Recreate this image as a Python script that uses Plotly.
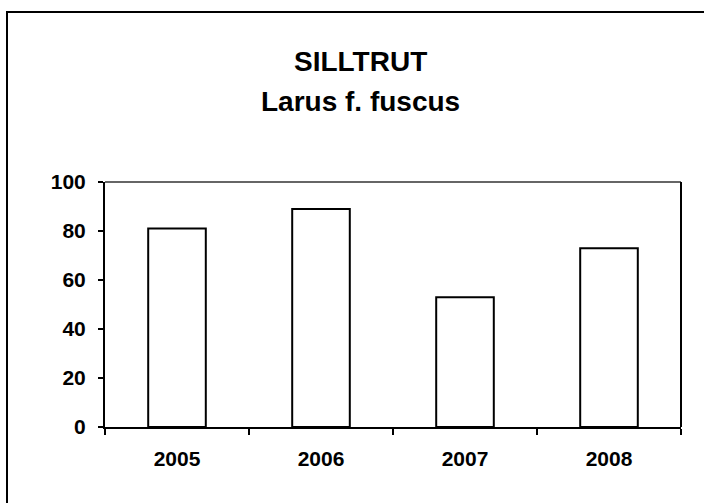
import plotly.graph_objects as go

years = ["2005", "2006", "2007", "2008"]
values = [81, 89, 53, 73]
y_ticks = [0, 20, 40, 60, 80, 100]
title_line1 = "SILLTRUT"
title_line2 = "Larus f. fuscus"

W, H = 704, 503
L, R, T, B = 105, 23, 182, 76
pw, ph = W - L - R, H - T - B

def px(x):
    return (x - L) / pw

def py(y):
    return (H - B - y) / ph

font_family = "Liberation Sans, Arial, sans-serif"

fig = go.Figure(go.Bar(
    x=years, y=values, width=0.4,
    marker=dict(color="white", line=dict(color="black", width=2)),
))

fig.update_layout(
    width=W, height=H,
    margin=dict(l=L, r=R, t=T, b=B, pad=0),
    paper_bgcolor="white", plot_bgcolor="white",
    showlegend=False,
    font=dict(family=font_family, color="black"),
    annotations=[
        dict(text=title_line1, x=px(360), y=py(62), xref="paper", yref="paper",
             xanchor="center", yanchor="middle", showarrow=False,
             font=dict(size=28, family=font_family, color="black", weight="bold")),
        dict(text=title_line2, x=px(360), y=py(101), xref="paper", yref="paper",
             xanchor="center", yanchor="middle", showarrow=False,
             font=dict(size=28, family=font_family, color="black", weight="bold")),
    ],
    shapes=[
        # outer chart border (extends beyond canvas on right/bottom)
        dict(type="rect", xref="paper", yref="paper",
             x0=px(7), y0=py(520), x1=px(720), y1=py(12),
             line=dict(color="black", width=2), fillcolor="rgba(0,0,0,0)", layer="above"),
        # plot area border top/right
        dict(type="line", xref="paper", yref="paper", x0=0, x1=1, y0=1, y1=1,
             line=dict(color="#333", width=1.5)),
        dict(type="line", xref="paper", yref="paper", x0=1, x1=1, y0=0, y1=1,
             line=dict(color="black", width=2)),
    ],
)

fig.update_xaxes(
    type="category", showgrid=False, zeroline=False,
    showline=True, linecolor="black", linewidth=2,
    ticks="outside", tickson="boundaries", ticklen=6, tickwidth=1.5, tickcolor="black",
    tickfont=dict(size=21, family=font_family, color="black", weight="bold"),
    ticklabelstandoff=12,
)
fig.update_yaxes(
    range=[0, 100], tickvals=y_ticks, showgrid=False, zeroline=False,
    showline=True, linecolor="black", linewidth=2,
    ticks="outside", ticklen=5, tickwidth=1.5, tickcolor="black",
    tickfont=dict(size=21, family=font_family, color="black", weight="bold"),
    ticklabelstandoff=8,
)

fig.write_html("out.html", config={"displayModeBar": False},
               post_script="document.body.style.margin='0px';")
